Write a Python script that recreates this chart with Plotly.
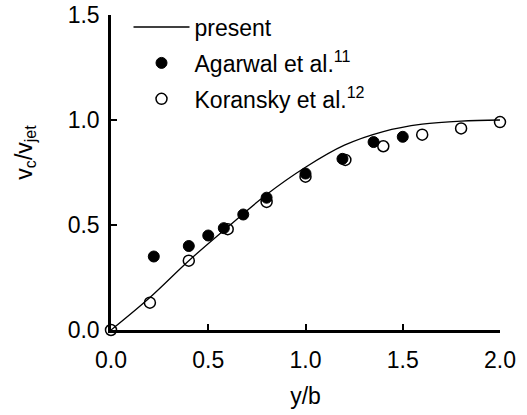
import plotly.graph_objects as go

# present (computed curve)
line_x = [0.0, 0.2, 0.4, 0.6, 0.8, 1.0, 1.2, 1.4, 1.6, 1.8, 2.0]
line_y = [0.0, 0.155, 0.33, 0.49, 0.645, 0.775, 0.88, 0.945, 0.98, 0.995, 1.0]

# Agarwal et al. (filled)
ag_x = [0.22, 0.40, 0.50, 0.58, 0.68, 0.80, 1.00, 1.19, 1.35, 1.50]
ag_y = [0.35, 0.40, 0.45, 0.485, 0.55, 0.63, 0.745, 0.815, 0.895, 0.92]

# Koransky et al. (open)
ko_x = [0.0, 0.20, 0.40, 0.60, 0.80, 1.00, 1.205, 1.40, 1.60, 1.80, 2.00]
ko_y = [0.0, 0.13, 0.33, 0.48, 0.61, 0.73, 0.81, 0.875, 0.93, 0.96, 0.99]

x_ticks = [0.0, 0.5, 1.0, 1.5, 2.0]
y_ticks = [0.0, 0.5, 1.0, 1.5]

FONT = "Liberation Sans, Arial, sans-serif"
FS = 23

fig = go.Figure()
fig.add_trace(go.Scatter(x=line_x, y=line_y, mode="lines", name="present",
                         line=dict(color="black", width=1.3, shape="spline"),
                         legendgroup="a", cliponaxis=False))
fig.add_trace(go.Scatter(x=ag_x, y=ag_y, mode="markers", name="Agarwal et al.<sup>11</sup>",
                         marker=dict(symbol="circle", size=11, color="black",
                                     line=dict(color="black", width=1)),
                         legendgroup="b", cliponaxis=False))
fig.add_trace(go.Scatter(x=ko_x, y=ko_y, mode="markers", name="Koransky et al.<sup>12</sup>",
                         marker=dict(symbol="circle-open", size=11, color="black",
                                     line=dict(color="black", width=1.5)),
                         legendgroup="c", cliponaxis=False))

axis_common = dict(showline=True, linecolor="black", linewidth=2.5, ticks="inside",
                   ticklen=6, tickwidth=2, tickcolor="black", showgrid=False,
                   zeroline=False, tickfont=dict(family=FONT, size=FS, color="black"))

fig.update_xaxes(range=[0, 2.0], tickvals=x_ticks, ticktext=[f"{v:.1f}" for v in x_ticks],
                 ticklabelstandoff=8,
                 title=dict(text="y/b", font=dict(family=FONT, size=FS, color="black"), standoff=16),
                 **axis_common)
fig.update_yaxes(range=[0, 1.5], tickvals=y_ticks, ticktext=[f"{v:.1f}" for v in y_ticks],
                 ticklabelstandoff=4, **axis_common)

fig.add_annotation(text="v<sub>c</sub>/v<sub>jet</sub>", xref="paper", yref="paper",
                   x=-0.222, y=0.565, xanchor="center", yanchor="middle", textangle=-90,
                   showarrow=False, font=dict(family=FONT, size=FS, color="black"))

fig.update_layout(
    width=527, height=415,
    margin=dict(l=111, r=27, t=15, b=85, autoexpand=False),
    paper_bgcolor="white", plot_bgcolor="white",
    font=dict(family=FONT, size=FS, color="black"),
    showlegend=True,
    legend=dict(x=0.045, y=1.03, xanchor="left", yanchor="top",
                bgcolor="rgba(0,0,0,0)", font=dict(family=FONT, size=FS, color="black"),
                tracegroupgap=3, itemwidth=56),
)

fig.write_html("out.html")
